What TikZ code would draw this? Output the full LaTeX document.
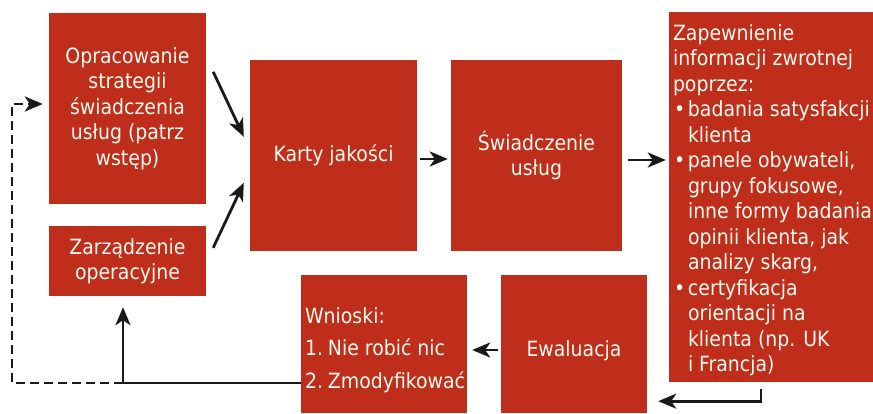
\documentclass[tikz,border=0pt]{standalone}
\usepackage{fontspec}
\setmainfont{DejaVu Sans Condensed}
\usetikzlibrary{arrows.meta}
\definecolor{boxred}{RGB}{191,45,27}
\definecolor{boxtext}{RGB}{255,250,240}
\newcommand{\itembul}{\makebox[15pt][l]{\hspace{1pt}\textbullet}}
\newcommand{\itemcont}{\hspace*{15pt}}

\begin{document}
\begin{tikzpicture}[x=1pt, y=-1pt,
		box_style/.style={rectangle,fill=boxred,text=boxtext,inner sep=4pt,align=center,
			font=\fontsize{21}{25.5}\selectfont},
		arr_style/.style={draw=black!90,line width=2.8pt,-{Stealth[length=18pt,width=15pt,inset=5pt]}},
		line_style/.style={draw=black!90,line width=2.8pt}]
		
		\useasboundingbox (0,0) rectangle (873,414);
		
		\node[box_style,minimum width=157pt,minimum height=191pt] (strat) at (127.5,108.5)
			{Opracowanie\\strategii\\świadczenia\\usług (patrz\\wstęp)};
		\node[box_style,minimum width=157pt,minimum height=70pt] (oper) at (127.5,261)
			{Zarządzenie\\operacyjne};
		\node[box_style,minimum width=167pt,minimum height=191pt] (karty) at (333.5,155.5)
			{Karty jakości};
		\node[box_style,minimum width=171pt,minimum height=191pt] (swiad) at (536.5,155.5)
			{Świadczenie\\usług};
		\node[box_style,minimum width=206pt,minimum height=370pt] (info) at (772,197)
			{\raisebox{-4pt}[\height][\depth]{\makebox[198pt][l]{\begin{tabular}{@{}l@{}}
			Zapewnienie\\informacji zwrotnej\\poprzez:\\
			\itembul badania satysfakcji\\
			\itemcont klienta\\
			\itembul panele obywateli,\\
			\itemcont grupy fokusowe,\\
			\itemcont inne formy badania\\
			\itemcont opinii klienta, jak\\
			\itemcont analizy skarg,\\
			\itembul certyfikacja\\
			\itemcont orientacji na\\
			\itemcont klienta (np. UK\\
			\itemcont i Francja)
			\end{tabular}}}};
		\node[box_style,minimum width=166pt,minimum height=138pt] (wnioski) at (384,344)
			{\raisebox{-6pt}[\height][\depth]{\parbox{158pt}{\raggedright
				\fontsize{21}{32.5}\selectfont
				Wnioski:\\\makebox[23pt][l]{1.}Nie robić nic\\\makebox[23pt][l]{2.}Zmodyfikować}}};
		\node[box_style,minimum width=146pt,minimum height=138pt] (ewal) at (574,344)
			{\raisebox{-7pt}[\height][\depth]{Ewaluacja}};
		
		\coordinate (s1) at ([shift={(6,4.5)}]swiad.east);
		\coordinate (join) at (123,383);
		\coordinate (back) at (12,383);
		
		\draw[arr_style] ([shift={(7,59)}]strat.north east) -- ([shift={(-6,77)}]karty.north west);
		\draw[arr_style] ([shift={(7,22)}]oper.north east) -- ([shift={(-6,123)}]karty.north west);
		\draw[arr_style] ([shift={(3,3.5)}]karty.east) -- ([shift={(-3,3.5)}]swiad.west);
		\draw[arr_style,shorten >=3pt] (s1) -- (s1 -| info.west);
		\draw[arr_style] ([shift={(-11,7)}]info.south) -- ++(0,12) -- ([shift={(11,-12)}]ewal.south east);
		\draw[arr_style] ([shift={(-3,6)}]ewal.west) -- ([shift={(5,6)}]wnioski.east);
		\draw[line_style] (wnioski.west |- join) -- (join);
		\draw[arr_style,shorten >=11pt] (join) -- (join |- oper.south);
		\draw[arr_style,dash pattern=on 9pt off 5pt] (join) -- (back) |- ([shift={(-6,-4.5)}]strat.west);
		
\end{tikzpicture}
\end{document}
